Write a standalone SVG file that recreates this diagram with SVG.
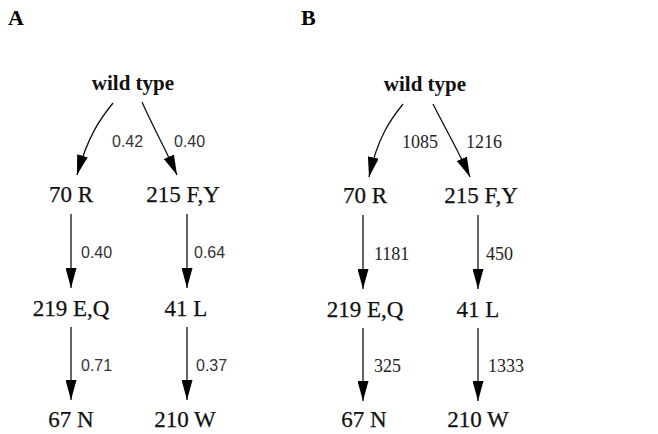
<svg xmlns="http://www.w3.org/2000/svg" width="658" height="434" viewBox="0 0 658 434">
  <style>
    .panel { font-family: "Liberation Serif", "Times New Roman", serif; font-weight: bold; font-size: 22px; fill: #000; }
    .root { font-family: "Liberation Serif", "Times New Roman", serif; font-weight: bold; font-size: 21px; fill: #111; text-anchor: middle; }
    .node { font-family: "Liberation Serif", "Times New Roman", serif; font-size: 23px; fill: #111; stroke: #111; stroke-width: 0.25; text-anchor: middle; }
    .wA { font-family: "Liberation Sans", Arial, sans-serif; font-size: 16px; fill: #333; }
    .wB { font-family: "Liberation Serif", "Times New Roman", serif; font-size: 18px; fill: #222; }
    .edge { fill: none; stroke: #111; stroke-width: 1.3; marker-end: url(#head); }
  </style>
  <defs>
    <marker id="head" markerUnits="userSpaceOnUse" viewBox="0 0 20 11" refX="20" refY="5.5" markerWidth="20" markerHeight="11" orient="auto">
      <path d="M0,0 L20,5.5 L0,11 z" fill="#000"/>
    </marker>
  </defs>
  <rect width="658" height="434" fill="#fff"/>

  <text class="panel" x="8" y="25">A</text>
  <text class="panel" x="301" y="25">B</text>

  <!-- connectors -->
  <g id="connectors">
    <path class="edge" d="M113,103 C100,119 88,136 77,175"/>
    <path class="edge" d="M142,102 C152,125 165,148 177,175"/>
    <path class="edge" d="M71,214 L71,288"/>
    <path class="edge" d="M187,214 L187,288"/>
    <path class="edge" d="M71,327 L71,400"/>
    <path class="edge" d="M187,327 L187,400"/>

    <path class="edge" d="M403,104 C391,119 378,136 369,177"/>
    <path class="edge" d="M433,104 C445,128 458,150 470,177"/>
    <path class="edge" d="M363,215 L363,289"/>
    <path class="edge" d="M478,215 L478,289"/>
    <path class="edge" d="M363,328 L363,401"/>
    <path class="edge" d="M478,328 L478,401"/>
  </g>

  <!-- edge weights -->
  <g id="weights">
    <text class="wA" x="112" y="147">0.42</text>
    <text class="wA" x="174" y="147">0.40</text>
    <text class="wA" x="81" y="258">0.40</text>
    <text class="wA" x="194" y="258">0.64</text>
    <text class="wA" x="81" y="371">0.71</text>
    <text class="wA" x="196" y="371">0.37</text>

    <text class="wB" x="402" y="148">1085</text>
    <text class="wB" x="466" y="148">1216</text>
    <text class="wB" x="374" y="260">1181</text>
    <text class="wB" x="486" y="260">450</text>
    <text class="wB" x="374" y="372">325</text>
    <text class="wB" x="488" y="372">1333</text>
  </g>

  <!-- panel A nodes -->
  <g id="a-wt"><text class="root" x="133" y="90">wild type</text></g>
  <g id="a-70R"><text class="node" x="71" y="202">70 R</text></g>
  <g id="a-215FY"><text class="node" x="183" y="202">215 F,Y</text></g>
  <g id="a-219EQ"><text class="node" x="71" y="316">219 E,Q</text></g>
  <g id="a-41L"><text class="node" x="186" y="316">41 L</text></g>
  <g id="a-67N"><text class="node" x="71" y="427">67 N</text></g>
  <g id="a-210W"><text class="node" x="185" y="427">210 W</text></g>

  <!-- panel B nodes -->
  <g id="b-wt"><text class="root" x="425" y="91">wild type</text></g>
  <g id="b-70R"><text class="node" x="365" y="203">70 R</text></g>
  <g id="b-215FY"><text class="node" x="481" y="203">215 F,Y</text></g>
  <g id="b-219EQ"><text class="node" x="365" y="317">219 E,Q</text></g>
  <g id="b-41L"><text class="node" x="478" y="317">41 L</text></g>
  <g id="b-67N"><text class="node" x="364" y="427">67 N</text></g>
  <g id="b-210W"><text class="node" x="478" y="427">210 W</text></g>
</svg>
